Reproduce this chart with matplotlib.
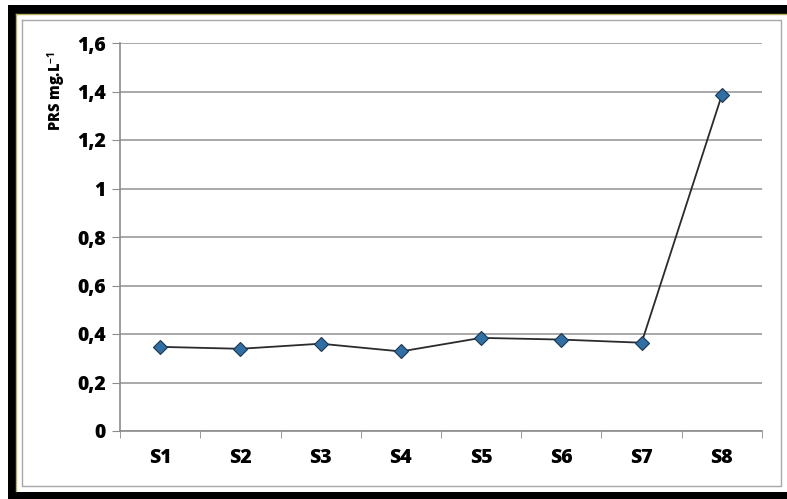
import matplotlib.pyplot as plt
from matplotlib.patches import Rectangle
from matplotlib.lines import Line2D

SITES = ['S1', 'S2', 'S3', 'S4', 'S5', 'S6', 'S7', 'S8']
PRS = [0.347, 0.339, 0.360, 0.328, 0.384, 0.377, 0.364, 1.386]
YTICKS = [0, 0.2, 0.4, 0.6, 0.8, 1.0, 1.2, 1.4, 1.6]
YTICK_LABELS = ['0', '0,2', '0,4', '0,6', '0,8', '1', '1,2', '1,4', '1,6']

W, H = 787, 499
plt.rcParams['font.family'] = ['Open Sans', 'DejaVu Sans']
plt.rcParams['mathtext.fontset'] = 'custom'
plt.rcParams['mathtext.rm'] = 'Open Sans:bold'
plt.rcParams['mathtext.bf'] = 'Open Sans:bold'
plt.rcParams['mathtext.default'] = 'bf'

fig = plt.figure(figsize=(W / 100, H / 100), dpi=100)


def px_box(x0, y0, x1, y1, color):
    # filled box in picture pixels (top-left origin)
    fig.add_artist(Rectangle((x0 / W, 1 - y1 / H), (x1 - x0) / W, (y1 - y0) / H,
                             transform=fig.transFigure, facecolor=color,
                             edgecolor='none'))


def px_line(xs, ys, color, lw=1.0):
    fig.add_artist(Line2D([v / W for v in xs], [1 - v / H for v in ys],
                          transform=fig.transFigure, color=color, linewidth=lw))


# black frame on left, top and bottom
px_box(8, 5, W, 13.5, 'black')
px_box(8, 5, 15.5, H, 'black')
px_box(8, 492, W, H, 'black')
# thin olive line inside it
px_line([16, 16], [14, 491], '#b8b060')
px_line([16, W], [14, 14], '#b8b060')
# grey inner frame
px_line([22, 781, 781, 22, 22], [20, 20, 486, 486, 20], '#a8a8a8', 1.0)

ax = fig.add_axes([120 / W, 1 - 431 / H, (762 - 120) / W, (431 - 43) / H])
ax.set_facecolor('none')

x = [i + 0.5 for i in range(len(SITES))]
ax.plot(x, PRS, color='#2b2b2b', linewidth=1.3, marker='D', markersize=7.5,
        markerfacecolor='#2f6fa3', markeredgecolor='#1c3550', markeredgewidth=0.8,
        zorder=3)

ax.set_xlim(0, len(SITES))
ax.set_ylim(0, 1.6)
ax.set_yticks(YTICKS)
ax.set_yticklabels(YTICK_LABELS, fontsize=14, fontweight='heavy')
ax.set_xticks(x)
ax.set_xticklabels(SITES, fontsize=14, fontweight='heavy')
ax.set_xticks(range(len(SITES) + 1), minor=True)
ax.tick_params(axis='x', which='major', length=0, pad=12)
ax.tick_params(axis='x', which='minor', length=5, color='#8c8c8c', direction='out')
ax.tick_params(axis='y', length=6, color='#8c8c8c', pad=4)

ax.grid(axis='y', color='#9a9a9a', linewidth=1.2)
ax.set_axisbelow(True)
for s in ['top', 'right']:
    ax.spines[s].set_visible(False)
for s in ['left', 'bottom']:
    ax.spines[s].set_color('#8c8c8c')
    ax.spines[s].set_linewidth(1.2)

ax.text(-0.098, 0.978, 'PRS mg.L$^{-1}$', transform=ax.transAxes,
        rotation=90, ha='center', va='top', fontsize=10.5, fontweight='heavy')

fig.savefig('out.png', dpi=100)
